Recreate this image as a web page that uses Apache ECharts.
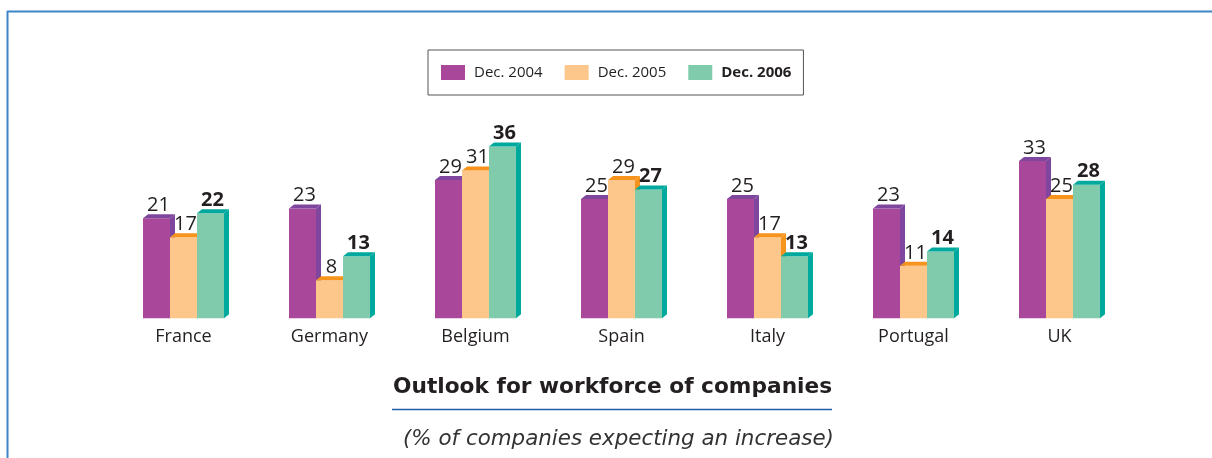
<!DOCTYPE html>
<html>
<head>
<meta charset="utf-8">
<script src="https://cdn.jsdelivr.net/npm/echarts@6/dist/echarts.min.js"></script>
<style>
  html, body { margin: 0; padding: 0; background: #fff; }
  #chart { width: 1212px; height: 458px; }
</style>
</head>
<body>
<div id="chart"></div>
<script>
// Survey results per country
const countries = ['France', 'Germany', 'Belgium', 'Spain', 'Italy', 'Portugal', 'UK'];
const seriesNames = ['Dec. 2004', 'Dec. 2005', 'Dec. 2006'];
const dec2004 = [21, 23, 29, 25, 25, 23, 33];
const dec2005 = [17, 8, 31, 29, 17, 11, 25];
const dec2006 = [22, 13, 36, 27, 13, 14, 28];

const titleText = 'Outlook for workforce of companies';
const subtitleText = '(% of companies expecting an increase)';

// front face, top/side face colours for each year
const frontColors = ['#a9489a', '#fdc68a', '#80cbac'];
const edgeColors = ['#7e479d', '#f7941d', '#00a99d'];

const FONT = '"Open Sans", "Noto Sans", sans-serif';
const TITLE_FONT = '"DejaVu Sans", "Open Sans", sans-serif';
const BAR_W = 27;    // width of one bar's front face
const DX = 5;        // depth offset to the right
const DY = 4;        // depth offset upwards

function makeRender(s) {
  return function (params, api) {
    const idx = api.value(0);
    const val = api.value(1);
    const top = api.coord([idx, val]);
    const base = api.coord([idx, 0]);
    const x0 = top[0] - BAR_W * 1.5 + s * BAR_W;
    const x1 = x0 + BAR_W;
    const yt = top[1];
    const yb = base[1];
    return {
      type: 'group',
      children: [
        {
          type: 'polygon',
          shape: { points: [[x1, yt], [x1 + DX, yt - DY], [x1 + DX, yb - DY], [x1, yb]] },
          style: { fill: edgeColors[s] }
        },
        {
          type: 'rect',
          shape: { x: x0, y: yt, width: BAR_W, height: yb - yt },
          style: { fill: frontColors[s] }
        },
        {
          type: 'polygon',
          shape: { points: [[x0, yt], [x0 + DX, yt - DY], [x1 + DX, yt - DY], [x1, yt]] },
          style: { fill: edgeColors[s] }
        },
        {
          type: 'text',
          style: {
            text: String(val),
            x: (x0 + x1) / 2 + 2,
            y: yt - 3,
            align: 'center',
            verticalAlign: 'bottom',
            fill: '#231f20',
            font: (s === 2 ? 'bold ' : '') + '20px ' + FONT
          }
        }
      ]
    };
  };
}

const seriesData = [dec2004, dec2005, dec2006];

const chart = echarts.init(document.getElementById('chart'), null, { renderer: 'canvas' });
chart.setOption({
  animation: false,
  backgroundColor: '#fff',
  title: [
    {
      text: titleText,
      left: 388,
      top: 371,
      textStyle: { fontFamily: TITLE_FONT, fontSize: 21.7, fontWeight: 'bold', color: '#231f20' }
    },
    {
      text: subtitleText,
      left: 398,
      top: 424,
      textStyle: { fontFamily: TITLE_FONT, fontSize: 21.4, fontWeight: 'normal', fontStyle: 'italic', color: '#333333' }
    }
  ],
  legend: {
    left: 428,
    top: 50,
    padding: [15, 12, 15, 13],
    itemGap: 22,
    itemWidth: 24,
    itemHeight: 15,
    icon: 'rect',
    borderColor: '#555555',
    borderWidth: 1,
    textStyle: { fontFamily: FONT, fontSize: 15, color: '#231f20', padding: [0, 0, 0, 4] },
    data: [
      { name: seriesNames[0] },
      { name: seriesNames[1] },
      { name: seriesNames[2], textStyle: { fontWeight: 'bold' } }
    ]
  },
  grid: { left: 110.5, right: 79.5, top: 127.5, bottom: 139.7 },
  xAxis: {
    type: 'category',
    data: countries,
    axisLine: { show: false },
    axisTick: { show: false },
    axisLabel: { fontFamily: FONT, fontSize: 18, color: '#231f20', margin: 10 }
  },
  yAxis: {
    type: 'value',
    min: 0,
    max: 40,
    show: false,
    splitLine: { show: false }
  },
  series: seriesData.map((arr, s) => ({
    type: 'custom',
    name: seriesNames[s],
    itemStyle: { color: frontColors[s] },
    renderItem: makeRender(s),
    encode: { x: 0, y: 1 },
    data: arr.map((v, i) => [i, v])
  })),
  graphic: [
    { type: 'line', shape: { x1: 7, y1: 11.5, x2: 1212, y2: 11.5 }, style: { stroke: '#3f86c8', lineWidth: 2 } },
    { type: 'line', shape: { x1: 7.5, y1: 11, x2: 7.5, y2: 458 }, style: { stroke: '#3f86c8', lineWidth: 2 } },
    { type: 'line', shape: { x1: 392, y1: 409.5, x2: 832, y2: 409.5 }, style: { stroke: '#2160a8', lineWidth: 1.3 } }
  ]
});
</script>
</body>
</html>
